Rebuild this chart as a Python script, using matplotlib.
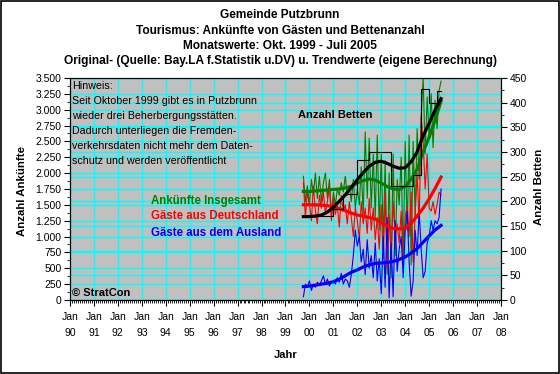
import datetime as dt
import pandas as pd
import matplotlib
matplotlib.use("Agg")
import matplotlib.pyplot as plt
import matplotlib.dates as mdates
from matplotlib.patches import Rectangle

plt.rcParams['font.family'] = ['Liberation Sans', 'DejaVu Sans']

# Monatswerte Okt. 1999 - Juli 2005 (70 Monate)
months = pd.date_range('1999-10-01', periods=70, freq='MS')

ankuenfte = [1950, 1550, 1800, 1500, 1900, 1650, 2000, 1600, 1950, 1550,
             1850, 2000, 1600, 1900, 1350, 1700, 1500, 1750, 1650, 1850,
             1700, 1950, 1650, 1800, 1550, 1900, 1450, 1750, 1500, 2100,
             1350, 2650, 1600, 2550, 1450, 2300, 1300, 2600, 1100, 2300,
             900, 2200, 400, 2000, 350, 2300, 700, 1900, 1500, 2250,
             600, 2500, 1100, 2600, 550, 2500, 1300, 2700, 1900, 2900,
             3500, 2300, 3200, 2550, 3250, 2400, 3150, 2700, 3300, 3450]

deutschland = [1850, 1300, 1700, 1500, 1250, 1800, 1400, 1200, 1650, 1450,
               1700, 1350, 1550, 1800, 1250, 1600, 1350, 1500, 1150, 1650,
               1400, 1500, 1200, 1550, 1300, 1000, 1450, 1250, 950, 1550,
               1200, 1450, 1050, 1600, 1100, 1450, 950, 1300, 800, 1500,
               650, 1700, 500, 1350, 700, 1550, 1000, 1200, 900, 1400,
               550, 1300, 1500, 1000, 1700, 600, 1350, 2000, 1200, 2900,
               2500, 1750, 2300, 1450, 1400, 1550, 1350, 1500, 1700, 1650]

ausland = [50, 250, 200, 300, 150, 250, 200, 280, 230, 300,
           380, 250, 330, 220, 280, 300, 250, 350, 280, 420,
           250, 330, 300, 200, 400, 700, 1100, 850, 1000, 600,
           800, 400, 950, 500, 700, 350, 900, 300, 650, 100,
           1000, 200, 1300, 30, 900, 50, 1250, 450, 800, 1000,
           350, 1100, 1400, 600, 60, 300, 1100, 700, 1400, 800,
           350, 450, 900, 1000, 1250, 1100, 1250, 1200, 1300, 1750]

betten = [170] * 15 + [185] * 5 + [215] * 7 + [284] * 6 + [299] * 11 + \
         [230] * 11 + [254] * 4 + [428] * 4 + [400] * 4 + [423] * 3

# Trendwerte (vierteljaehrlich)
trend_dates = pd.date_range('1999-10-01', periods=24, freq='3MS')
trend_ankuenfte = [1711, 1711, 1719, 1727, 1734, 1742, 1750, 1766, 1789, 1843,
                   1882, 1906, 1890, 1843, 1789, 1750, 1742, 1789, 1906, 2061,
                   2333, 2567, 2839, 3134]
trend_deutschland = [1500, 1500, 1500, 1493, 1486, 1470, 1439, 1408, 1369, 1338,
                     1322, 1299, 1276, 1221, 1167, 1128, 1120, 1136, 1206, 1322,
                     1447, 1594, 1758, 1937]
trend_ausland = [210, 218, 233, 249, 264, 288, 327, 381, 436, 474,
                 521, 552, 576, 583, 591, 607, 638, 677, 739, 809,
                 910, 1011, 1104, 1175]
trend_betten = [169, 169, 170, 172, 178, 188, 200, 213, 228, 244,
                258, 271, 279, 281, 277, 271, 267, 268, 280, 300,
                333, 358, 385, 408]

years = list(range(1990, 2009))
left_ticks = list(range(0, 3501, 250))
right_ticks = list(range(0, 451, 50))

hinweis = ("Hinweis:\nSeit Oktober 1999 gibt es in Putzbrunn\n"
           "wieder drei Beherbergungsstätten.\nDadurch unterliegen die Fremden-\n"
           "verkehrsdaten nicht mehr dem Daten-\nschutz und werden veröffentlicht")

fig = plt.figure(figsize=(5.6, 3.74), dpi=100)
ax = fig.add_axes([0.125, 0.198, 0.7696, 0.5936])
ax2 = ax.twinx()

ax.set_facecolor('#c0c0c0')
ax.set_xlim(dt.date(1990, 1, 1), dt.date(2008, 1, 1))
ax.set_ylim(0, 3500)
ax2.set_ylim(0, 450)

# Gitter (links und rechts) hinter den Linien
for y in left_ticks:
    ax.axhline(y, color='#00ffff', lw=1, zorder=0)
for y in right_ticks:
    ax.axhline(y * 3500 / 450, color='#00ffff', lw=1, zorder=0)
for yr in years:
    ax.axvline(dt.date(yr, 1, 1), color='#00ffff', lw=1, zorder=0)

ax.plot(months, ankuenfte, color='#008000', lw=0.8, zorder=2)
ax.plot(months, deutschland, color='#ff0000', lw=0.8, zorder=2)
ax.plot(months, ausland, color='#0000ff', lw=0.8, zorder=2)
ax.plot(trend_dates, trend_ankuenfte, color='#008000', lw=2.3, zorder=3)
ax.plot(trend_dates, trend_deutschland, color='#ff0000', lw=2.3, zorder=3)
ax.plot(trend_dates, trend_ausland, color='#0000ff', lw=2.3, zorder=3)

ax2.step(months, betten, where='post', color='black', lw=0.8)
ax2.plot(trend_dates, trend_betten, color='black', lw=2.3)

ax.set_yticks(left_ticks)
ax.set_yticklabels([f'{v:,}'.replace(',', '.') for v in left_ticks])
ax.set_yticks(range(0, 3501, 125), minor=True)
ax2.set_yticks(right_ticks)
ax2.set_yticks(range(0, 451, 25), minor=True)
ax.set_xticks([dt.date(y, 1, 1) for y in years])
ax.set_xticklabels([f'Jan\n{y % 100:02d}' for y in years], linespacing=1.7)
ax.xaxis.set_minor_locator(mdates.MonthLocator())

for a in (ax, ax2):
    a.tick_params(labelsize=7.5, length=4, width=0.8, direction='out', pad=2)
    a.tick_params(which='minor', length=2, width=0.6)
    for s in a.spines.values():
        s.set_linewidth(0.8)
ax.tick_params(axis='x', pad=5)

title_lines = ['Gemeinde Putzbrunn',
               'Tourismus: Ankünfte von Gästen und Bettenanzahl',
               'Monatswerte: Okt. 1999 - Juli 2005',
               'Original- (Quelle: Bay.LA f.Statistik u.DV) u. '
               'Trendwerte (eigene Berechnung)']
for yy, line in zip([0.96, 0.918, 0.877, 0.837], title_lines):
    fig.text(0.5, yy, line, ha='center', va='center', fontsize=8.6,
             fontweight='bold')

fig.text(0.04, 0.49, 'Anzahl Ankünfte', rotation=90, ha='center', va='center',
         fontsize=8.2, fontweight='bold')
fig.text(0.962, 0.5, 'Anzahl Betten', rotation=90, ha='center', va='center',
         fontsize=8.2, fontweight='bold')
fig.text(0.51, 0.05, 'Jahr', ha='center', va='center', fontsize=8,
         fontweight='bold')

fig.text(0.129, 0.784, hinweis, ha='left', va='top', fontsize=7.7,
         linespacing=1.62)
fig.text(0.532, 0.692, 'Anzahl Betten', fontsize=8, fontweight='bold', va='center')
fig.text(0.27, 0.462, 'Ankünfte Insgesamt', color='#008000', fontsize=8.3,
         fontweight='bold', va='center')
fig.text(0.27, 0.422, 'Gäste aus Deutschland', color='#ff0000', fontsize=8.3,
         fontweight='bold', va='center')
fig.text(0.27, 0.377, 'Gäste aus dem Ausland', color='#0000ff', fontsize=8.3,
         fontweight='bold', va='center')
fig.text(0.129, 0.218, '© StratCon', fontsize=8, fontweight='bold', va='center')

fig.patches.append(Rectangle((0.001, 0.002), 0.997, 0.995, transform=fig.transFigure,
                             fill=False, edgecolor='black', lw=1.2))

fig.savefig('out.png', dpi=100)
